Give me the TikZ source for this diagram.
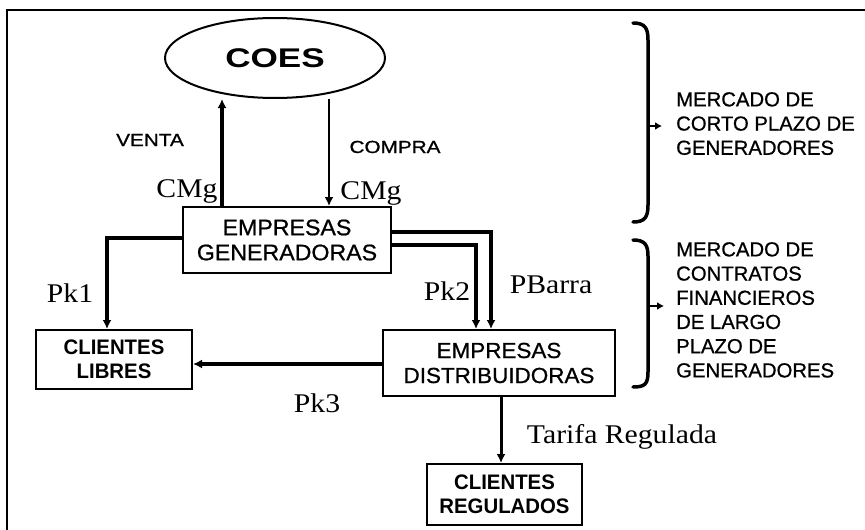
\documentclass[tikz,border=0pt]{standalone}
\usepackage{fontspec}
\usepackage{graphicx}
\usetikzlibrary{shapes.geometric,arrows.meta}
\setmainfont{Liberation Serif}[FakeStretch=1.1]
\newfontfamily\sansf{Liberation Sans}[FakeStretch=1.03,FakeBold=0.8]
\newfontfamily\sansp{Liberation Sans}[FakeBold=0.8]
\newfontfamily\sansb{Liberation Sans}
\newfontfamily\sansc{Liberation Sans}[FakeStretch=0.97]
\tikzset{
  box/.style={draw,line width=2pt,inner sep=0pt,align=center},
  cbox/.style={draw,line width=2pt,inner sep=0pt,align=center,
    font=\sansc\bfseries\fontsize{21}{24.5}\selectfont},
  arr/.style={-{Latex[length=9pt,width=9pt]}},
  thk/.style={line width=3.5pt},
  mid/.style={line width=2.2pt},
  ser/.style={inner sep=0pt,anchor=base,font=\fontsize{27}{30}\selectfont},
  sml/.style={inner sep=0pt,anchor=base,font=\sansf\fontsize{17.5}{19}\selectfont},
  side/.style={inner sep=0pt,anchor=north west,align=left,
    font=\sansp\fontsize{20.3}{24.2}\selectfont},
}
\begin{document}
\begin{tikzpicture}[x=1pt,y=-1pt]
\useasboundingbox (0,0) rectangle (865,530);
% frame
\draw[line width=2.5pt] (7,530) -- (7,10) -- (866,10);
% nodes
\node[draw,ellipse,line width=2pt,minimum width=220pt,minimum height=80pt,inner sep=0pt,
  font=\sansb\bfseries\fontsize{27}{30}\selectfont] (coes) at (275,58) {\scalebox{1.3}[1]{COES}\hspace{22pt}};
\node[box,minimum width=208pt,minimum height=66pt,font=\sansf\fontsize{22.5}{25}\selectfont] (gen) at (287,240) {EMPRESAS\\GENERADORAS};
\node[cbox,minimum width=156pt,minimum height=59pt] (lib) at (114,359.5) {CLIENTES\\LIBRES};
\node[box,minimum width=232pt,minimum height=66pt,font=\sansf\fontsize{21.8}{25}\selectfont] (dist) at (499,363) {EMPRESAS\\DISTRIBUIDORAS};
\node[cbox,minimum width=155pt,minimum height=61pt] (reg) at (504.5,494.5) {CLIENTES\\REGULADOS};
% coordinates
\coordinate (vx) at (222,0);
\coordinate (cx) at (329,0);
\coordinate (p1) at (107,0);
\coordinate (tx) at (501,0);
% connectors
\draw[thk,arr] (gen.north -| vx) -- (coes.south -| vx);
\draw[mid,arr] (coes.south -| cx) -- (gen.north -| cx);
\draw[thk,arr] ([yshift=2pt]gen.west) -| (lib.north -| p1);
\draw[thk,arr] ([yshift=8pt]gen.east) -| ([xshift=-8pt]dist.north);
\draw[thk,arr] ([yshift=-5pt]gen.east) -| ([xshift=-23pt]dist.north);
\draw[thk,arr] ([yshift=-1pt]dist.west) -- ([yshift=-1pt]dist.west -| lib.east);
\draw[line width=3pt,arr] (dist.south -| tx) -- (reg.north -| tx);
% labels
\node[sml] (venta) at (150,146) {\scalebox{1.15}[1]{VENTA}};
\node[sml] (compra) at (395,153) {\scalebox{1.15}[1]{COMPRA}};
\node[ser] (cmg1) at (187,197) {CMg};
\node[ser] (cmg2) at (371,199) {CMg};
\node[ser] (pk1) at (70,302) {Pk1};
\node[ser] (pk2) at (447,300) {Pk2};
\node[ser] (pbarra) at (551,293) {PBarra};
\node[ser] (pk3) at (317,412) {Pk3};
\node[ser] (tarifa) at (622,443) {Tarifa Regulada};
% braces
\draw[line width=3.5pt,line cap=round] (633,23) .. controls (645,23) and (648,28) .. (648,40)
  -- (648,205) .. controls (648,217) and (645,222) .. (633,222);
\coordinate (b1) at (648,126);
\coordinate (b1e) at (662,126);
\draw[line width=2pt,-{Latex[length=7pt,width=8pt]}] (b1) -- (b1e);
\draw[line width=3.5pt,line cap=round] (633,240) .. controls (645,240) and (648,245) .. (648,256)
  -- (648,372) .. controls (648,384) and (645,387) .. (633,387);
\coordinate (b2) at (648,306);
\coordinate (b2e) at (664,306);
\draw[line width=2pt,-{Latex[length=7pt,width=8pt]}] (b2) -- (b2e);
\node[side] (t1) at (676,92) {MERCADO DE\\CORTO PLAZO DE\\GENERADORES};
\node[side] (t2) at (676,242) {MERCADO DE\\CONTRATOS\\FINANCIEROS\\DE LARGO\\PLAZO DE\\GENERADORES};
\end{tikzpicture}
\end{document}
